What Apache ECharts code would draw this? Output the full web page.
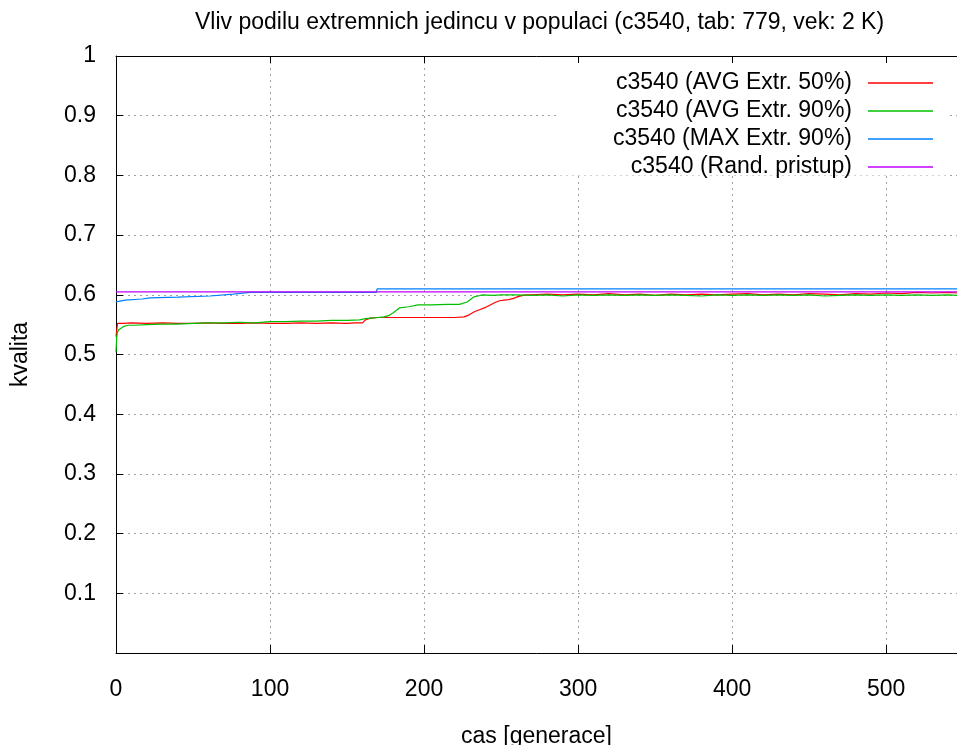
<!DOCTYPE html>
<html>
<head>
<meta charset="utf-8">
<script src="https://cdn.jsdelivr.net/npm/echarts@6/dist/echarts.min.js"></script>
<style>html,body{margin:0;padding:0;background:#fff}#c{width:957px;height:745px}</style>
</head>
<body>
<div id="c"></div>
<script>
const titleText = 'Vliv podilu extremnich jedincu v populaci (c3540, tab: 779, vek: 2 K)';
const xName = 'cas [generace]';
const yName = 'kvalita';
const seriesNames = ['c3540 (AVG Extr. 50%)', 'c3540 (AVG Extr. 90%)', 'c3540 (MAX Extr. 90%)', 'c3540 (Rand. pristup)'];
const colors = ['#ff0000', '#00c000', '#0080ff', '#c000ff'];

const redX = [0,1,2,5,10,20,30,40,50,60,70,80,90,100,110,120,130,140,150,155,160,162,165,170,180,190,200,210,220,226,229,231,233,236,240,243,246,249,252,255,258,261,264,267,270,280,290,300,310,320,330,340,350,360,370,380,390,400,410,420,430,440,450,460,470,480,490,500,510,520,530,540,546];
const redY = [0.530,0.552,0.553,0.552,0.553,0.552,0.553,0.552,0.552,0.553,0.552,0.552,0.553,0.552,0.552,0.553,0.552,0.553,0.552,0.553,0.553,0.558,0.561,0.562,0.562,0.562,0.562,0.562,0.562,0.563,0.566,0.569,0.572,0.575,0.579,0.583,0.587,0.590,0.591,0.592,0.594,0.597,0.599,0.600,0.600,0.601,0.600,0.601,0.600,0.602,0.600,0.601,0.599,0.601,0.600,0.601,0.600,0.601,0.602,0.600,0.601,0.600,0.602,0.601,0.600,0.602,0.601,0.603,0.602,0.604,0.603,0.604,0.603];

const greenX = [0,0.5,1,2,3,5,8,12,20,30,40,50,60,70,80,90,100,110,120,130,140,150,158,162,166,170,174,177,180,184,190,196,205,215,223,228,232,235,238,245,250,260,270,280,290,300,310,320,330,340,350,360,370,380,390,400,410,420,430,440,450,460,470,480,490,500,510,520,530,540,546];
const greenY = [0.504,0.530,0.538,0.542,0.545,0.547,0.549,0.549,0.550,0.551,0.551,0.552,0.553,0.553,0.554,0.553,0.555,0.555,0.556,0.556,0.557,0.557,0.558,0.560,0.561,0.562,0.563,0.565,0.570,0.578,0.580,0.583,0.583,0.584,0.584,0.588,0.596,0.598,0.600,0.599,0.600,0.600,0.599,0.600,0.598,0.600,0.599,0.600,0.599,0.600,0.599,0.600,0.599,0.598,0.600,0.599,0.600,0.599,0.600,0.599,0.600,0.598,0.599,0.600,0.599,0.600,0.599,0.600,0.599,0.600,0.599];

const blueX = [0,0.6,6,17,22,40,61,76,87,169,169.5,546];
const blueY = [0.588,0.590,0.591,0.593,0.595,0.596,0.598,0.601,0.604,0.604,0.610,0.610];

const purpleX = [0,546];
const purpleY = [0.605,0.605];

const xTicks = [0,100,200,300,400,500];
const yTicks = [0.1,0.2,0.3,0.4,0.5,0.6,0.7,0.8,0.9,1];

const zip = (xs, ys) => xs.map((x, i) => [x, ys[i]]);
const FONT = 'Liberation Sans';
const FS = 23;

const chart = echarts.init(document.getElementById('c'), null, {renderer: 'canvas'});
const lineSeries = [zip(redX, redY), zip(greenX, greenY), zip(blueX, blueY), zip(purpleX, purpleY)].map((d, i) => ({
  name: seriesNames[i],
  type: 'line',
  data: d,
  showSymbol: false,
  symbol: 'none',
  lineStyle: {width: 1.2, color: colors[i]},
  itemStyle: {color: colors[i]},
  animation: false,
  z: 2 + i
}));

chart.setOption({
  animation: false,
  backgroundColor: '#fff',
  textStyle: {fontFamily: FONT},
  title: {
    text: titleText, left: 190, top: 6,
    textStyle: {fontFamily: FONT, fontSize: FS, fontWeight: 'normal', color: '#000'}
  },
  grid: {left: 116, right: 0, top: 56, bottom: 92, containLabel: false, outerBoundsMode: 'none'},
  legend: {
    orient: 'vertical', right: 19, top: 64, align: 'right',
    itemGap: 0, itemWidth: 65, itemHeight: 1.5, icon: 'rect',
    textStyle: {fontFamily: FONT, fontSize: FS, color: '#000', lineHeight: 28, padding: [0, 11, 0, 0]},
    data: seriesNames, selectedMode: false, z: 10
  },
  graphic: [{
    type: 'rect', z: 1, silent: true,
    shape: {x: 560, y: 57.5, width: 386, height: 118},
    style: {fill: '#fff'}
  }],
  xAxis: [{
    type: 'value', min: 0, max: 546, interval: 100, position: 'bottom',
    name: xName, nameLocation: 'middle', nameGap: 72,
    nameTextStyle: {fontFamily: FONT, fontSize: FS, color: '#000'},
    axisLine: {show: true, onZero: false, lineStyle: {color: '#000', width: 1}},
    axisTick: {show: true, inside: true, length: 8, lineStyle: {color: '#000'}},
    axisLabel: {
      margin: 25, fontFamily: FONT, fontSize: FS, color: '#000',
      formatter: v => xTicks.includes(v) ? String(v) : '', showMaxLabel: false
    },
    splitLine: {show: true, lineStyle: {color: '#a0a0a0', type: [2, 4], width: 1}}
  }, {
    type: 'value', min: 0, max: 546, interval: 100, position: 'top', z: 5,
    axisLine: {show: true, onZero: false, lineStyle: {color: '#000', width: 1}},
    axisTick: {show: true, inside: true, length: 7, lineStyle: {color: '#000'}},
    axisLabel: {show: false},
    splitLine: {show: false}
  }],
  yAxis: {
    type: 'value', min: 0, max: 1, interval: 0.1,
    name: yName, nameLocation: 'middle', nameGap: 84, nameRotate: 90,
    nameTextStyle: {fontFamily: FONT, fontSize: FS, color: '#000'},
    axisLine: {show: true, onZero: false, lineStyle: {color: '#000', width: 1}},
    axisTick: {show: true, inside: true, length: 7, lineStyle: {color: '#000'}},
    axisLabel: {
      margin: 20, fontFamily: FONT, fontSize: FS, color: '#000',
      formatter: v => { const r = Math.round(v * 10) / 10; return yTicks.includes(r) ? String(r) : ''; }
    },
    splitLine: {show: true, lineStyle: {color: '#a0a0a0', type: [2, 4], width: 1}}
  },
  series: lineSeries
});
</script>
</body>
</html>
